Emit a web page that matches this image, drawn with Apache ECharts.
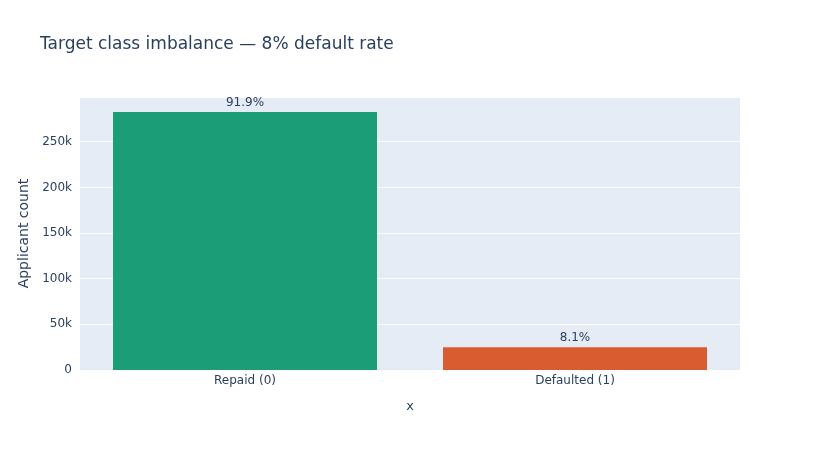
<!DOCTYPE html>
<html>
<head>
<meta charset="utf-8">
<script src="https://cdn.jsdelivr.net/npm/echarts@6/dist/echarts.min.js"></script>
<style>
  html, body { margin: 0; padding: 0; background: #fff; }
  #chart { width: 820px; height: 450px; }
</style>
</head>
<body>
<div id="chart"></div>
<script>
// data
var categories = ['Repaid (0)', 'Defaulted (1)'];
var counts = [282686, 24825];
var shareLabels = ['91.9%', '8.1%'];
var barColors = ['#1b9e77', '#d95c30'];

var fontFam = '"DejaVu Sans", Verdana, sans-serif';
var ink = '#2a3f5f';

var myChart = echarts.init(document.getElementById('chart'));

var option = {
    animation: false,
    backgroundColor: '#fff',
    textStyle: { fontFamily: fontFam },
    title: {
        text: 'Target class imbalance \u2014 8% default rate',
        left: 35,
        top: 31,
        textStyle: { fontFamily: fontFam, fontSize: 17, fontWeight: 'normal', color: ink }
    },
    grid: {
        left: 80, right: 80, top: 97, bottom: 80,
        show: true, backgroundColor: '#e5ecf6', borderWidth: 0
    },
    xAxis: {
        type: 'category',
        data: categories,
        name: 'x',
        nameLocation: 'middle',
        nameGap: 30,
        nameTextStyle: { color: ink, fontSize: 13, fontFamily: fontFam },
        axisLine: { show: false },
        axisTick: { show: false },
        axisLabel: { color: ink, fontSize: 12, margin: 5 }
    },
    yAxis: {
        type: 'value',
        min: 0,
        max: 299000,
        interval: 50000,
        name: 'Applicant count',
        nameLocation: 'middle',
        nameGap: 46,
        nameTextStyle: { color: ink, fontSize: 14, fontFamily: fontFam },
        axisLine: { show: false },
        axisTick: { show: false },
        splitLine: { lineStyle: { color: '#fff', width: 1 } },
        axisLabel: {
            color: ink,
            fontSize: 12,
            showMaxLabel: false,
            formatter: function (v) { return v === 0 ? '0' : (v / 1000) + 'k'; }
        }
    },
    series: [{
        type: 'bar',
        barCategoryGap: '20%',
        data: counts.map(function (v, i) {
            return { value: v, itemStyle: { color: barColors[i] } };
        }),
        label: {
            show: true,
            position: 'top',
            distance: 3,
            color: ink,
            fontSize: 12,
            formatter: function (p) { return shareLabels[p.dataIndex]; }
        }
    }]
};

myChart.setOption(option);
</script>
</body>
</html>
